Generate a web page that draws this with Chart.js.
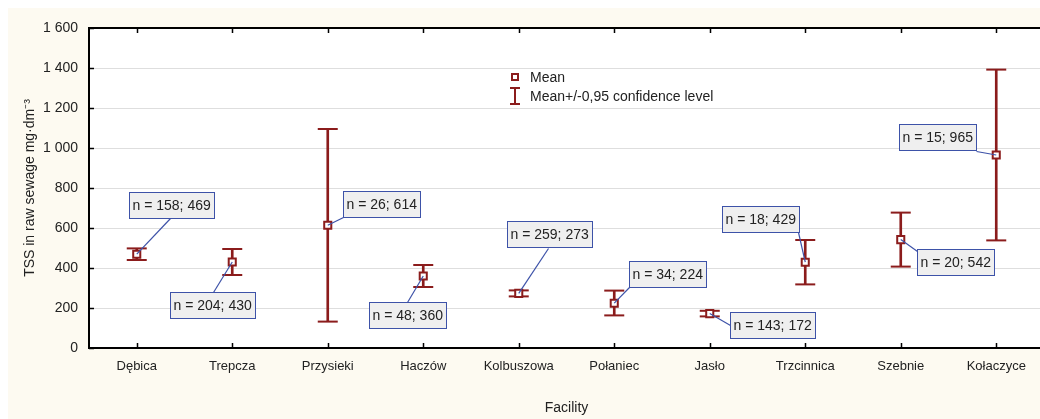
<!DOCTYPE html>
<html><head><meta charset="utf-8">
<script src="https://cdn.jsdelivr.net/npm/chart.js@4.4.0/dist/chart.umd.min.js"></script>
<style>html,body{margin:0;padding:0;overflow:hidden;background:#fff}#wrap{width:1056px;height:419px}</style>
</head><body><div id="wrap"><canvas id="c" width="1056" height="419"></canvas></div>
<script>
// ---- data ----
const facilities = ['Dębica','Trepcza','Przysieki','Haczów','Kolbuszowa','Połaniec','Jasło','Trzcinnica','Szebnie','Kołaczyce'];
const means  = [469, 430, 614, 360, 273, 224, 172, 429, 542, 965];
const ciLow  = [440, 365, 132, 305, 258, 163, 158, 318, 407, 538];
const ciHigh = [498, 495, 1095, 415, 288, 287, 186, 540, 677, 1392];
const counts = [158, 204, 26, 48, 259, 34, 143, 18, 20, 15];
const yTickValues = [0, 200, 400, 600, 800, 1000, 1200, 1400, 1600];
const yTitle = 'TSS in raw sewage mg·dm⁻³';
const xTitle = 'Facility';
const legendMean = 'Mean';
const legendCI = 'Mean+/-0,95 confidence level';

// ---- style ----
const RED = '#8b1c1c';
const BLUE = '#3d52a8';
const CREAM = '#fdfaf1';
const FONT = "'Liberation Sans', Arial, sans-serif";
// label box placement relative to mean marker: [dx, dy, anchorX, anchorY]
const labelPlacement = [[-8,-62,41,26],[-62,30,43,0],[15,-34,0,26],[-54,26,38,0],[-12,-72,41,27],[15,-42,0,26],[20,-2,0,13],[-83,-56,76,26],[16,9,0,2],[-97,-31,77,27]];

Chart.defaults.font.family = FONT;
Chart.defaults.color = '#222';

const fmt = v => String(v).replace(/\B(?=(\d{3})+(?!\d))/g, ' ');

const bgPlugin = {
  id: 'bg',
  beforeDraw(chart) {
    const {ctx, width, height, chartArea: a} = chart;
    ctx.save();
    ctx.fillStyle = '#fff'; ctx.fillRect(0, 0, width, height);
    ctx.fillStyle = CREAM; ctx.fillRect(8, 8, width - 8, height - 8);
    ctx.fillStyle = '#fff'; ctx.fillRect(a.left, a.top, a.right - a.left, a.bottom - a.top);
    ctx.restore();
  }
};

const framePlugin = {
  id: 'frame',
  afterDatasetsDraw(chart) {
    const {ctx, chartArea: a, scales: {x, y}} = chart;
    ctx.save();
    ctx.strokeStyle = '#000';
    ctx.lineWidth = 2;
    ctx.beginPath(); ctx.moveTo(a.left - 1, a.top); ctx.lineTo(a.right, a.top); ctx.stroke();
    ctx.lineWidth = 1.5;
    ctx.beginPath();
    facilities.forEach((f, i) => {
      const px = Math.round(x.getPixelForValue(i)) + 0.5;
      ctx.moveTo(px, a.bottom); ctx.lineTo(px, a.bottom - 5);
      ctx.moveTo(px, a.top); ctx.lineTo(px, a.top + 5);
    });
    yTickValues.forEach(v => {
      const py = Math.round(y.getPixelForValue(v)) + 0.5;
      ctx.moveTo(a.left, py); ctx.lineTo(a.left + 5, py);
    });
    ctx.stroke();

    // annotation boxes
    ctx.font = '14px ' + FONT;
    ctx.textBaseline = 'middle';
    facilities.forEach((f, i) => {
      const mx = x.getPixelForValue(i), my = y.getPixelForValue(means[i]);
      const [dx, dy, ax, ay] = labelPlacement[i];
      const txt = 'n = ' + counts[i] + '; ' + means[i];
      const w = Math.round(ctx.measureText(txt).width) + 7;
      const h = 26;
      const bx = Math.round(mx + dx) + 0.5, by = Math.round(my + dy) + 0.5;
      ctx.strokeStyle = BLUE; ctx.lineWidth = 1.2;
      ctx.beginPath(); ctx.moveTo(mx, my); ctx.lineTo(bx + ax, by + ay); ctx.stroke();
      ctx.fillStyle = '#efefef';
      ctx.fillRect(bx, by, w, h);
      ctx.lineWidth = 1;
      ctx.strokeRect(bx, by, w, h);
      ctx.fillStyle = '#222';
      ctx.textAlign = 'left';
      ctx.fillText(txt, bx + 3, by + h / 2 + 1);
    });

    // legend
    const lx = 515, l1 = 77, l2 = 96;
    ctx.strokeStyle = RED; ctx.lineWidth = 2;
    ctx.strokeRect(lx - 3, l1 - 3, 6, 6);
    ctx.beginPath();
    ctx.moveTo(lx, l2 - 8); ctx.lineTo(lx, l2 + 8);
    ctx.moveTo(lx - 5, l2 - 8); ctx.lineTo(lx + 5, l2 - 8);
    ctx.moveTo(lx - 5, l2 + 8); ctx.lineTo(lx + 5, l2 + 8);
    ctx.stroke();
    ctx.fillStyle = '#222';
    ctx.fillText(legendMean, 530, l1 + 1);
    ctx.fillText(legendCI, 530, l2 + 1);
    ctx.restore();
  }
};

new Chart(document.getElementById('c'), {
  data: {
    labels: facilities,
    datasets: [
      { type: 'bar', data: facilities.map((f, i) => [ciLow[i], ciHigh[i]]), backgroundColor: RED, borderWidth: 0, barThickness: 2, order: 3 },
      { type: 'line', data: ciLow, showLine: false, pointStyle: 'line', pointRadius: 10, pointBorderWidth: 2, pointBorderColor: RED, borderColor: RED, order: 2 },
      { type: 'line', data: ciHigh, showLine: false, pointStyle: 'line', pointRadius: 10, pointBorderWidth: 2, pointBorderColor: RED, borderColor: RED, order: 2 },
      { type: 'line', data: means, showLine: false, pointStyle: 'rect', pointRadius: 5, pointBorderWidth: 2, pointBorderColor: RED, pointBackgroundColor: '#fff', borderColor: RED, order: 1 }
    ]
  },
  options: {
    responsive: false,
    animation: false,
    events: [],
    layout: { padding: { top: 28, right: 6.5, left: 0, bottom: 0 } },
    plugins: { legend: { display: false }, tooltip: { enabled: false } },
    scales: {
      x: {
        offset: true,
        grid: { display: false, drawTicks: false },
        border: { display: true, color: '#000', width: 2 },
        ticks: { padding: 11, font: { size: 13 }, color: '#222', maxRotation: 0, autoSkip: false },
        title: { display: true, text: xTitle, font: { size: 14 }, color: '#222', padding: { top: 0, bottom: 2 } },
        afterFit: s => { s.height = 71; s.paddingLeft = 0; s.paddingRight = 0; }
      },
      y: {
        min: 0, max: 1600,
        afterBuildTicks: s => { s.ticks = yTickValues.map(v => ({ value: v })); },
        grid: { color: '#dedede', lineWidth: 1, drawTicks: false },
        border: { display: true, color: '#000', width: 2 },
        ticks: { padding: 11, font: { size: 14 }, color: '#222', callback: v => fmt(v) },
        title: { display: true, text: yTitle, font: { size: 14 }, color: '#222', padding: { top: 22, bottom: 0 } },
        afterFit: s => { s.width = 89; }
      }
    }
  },
  plugins: [bgPlugin, framePlugin]
});
</script>
</body></html>
